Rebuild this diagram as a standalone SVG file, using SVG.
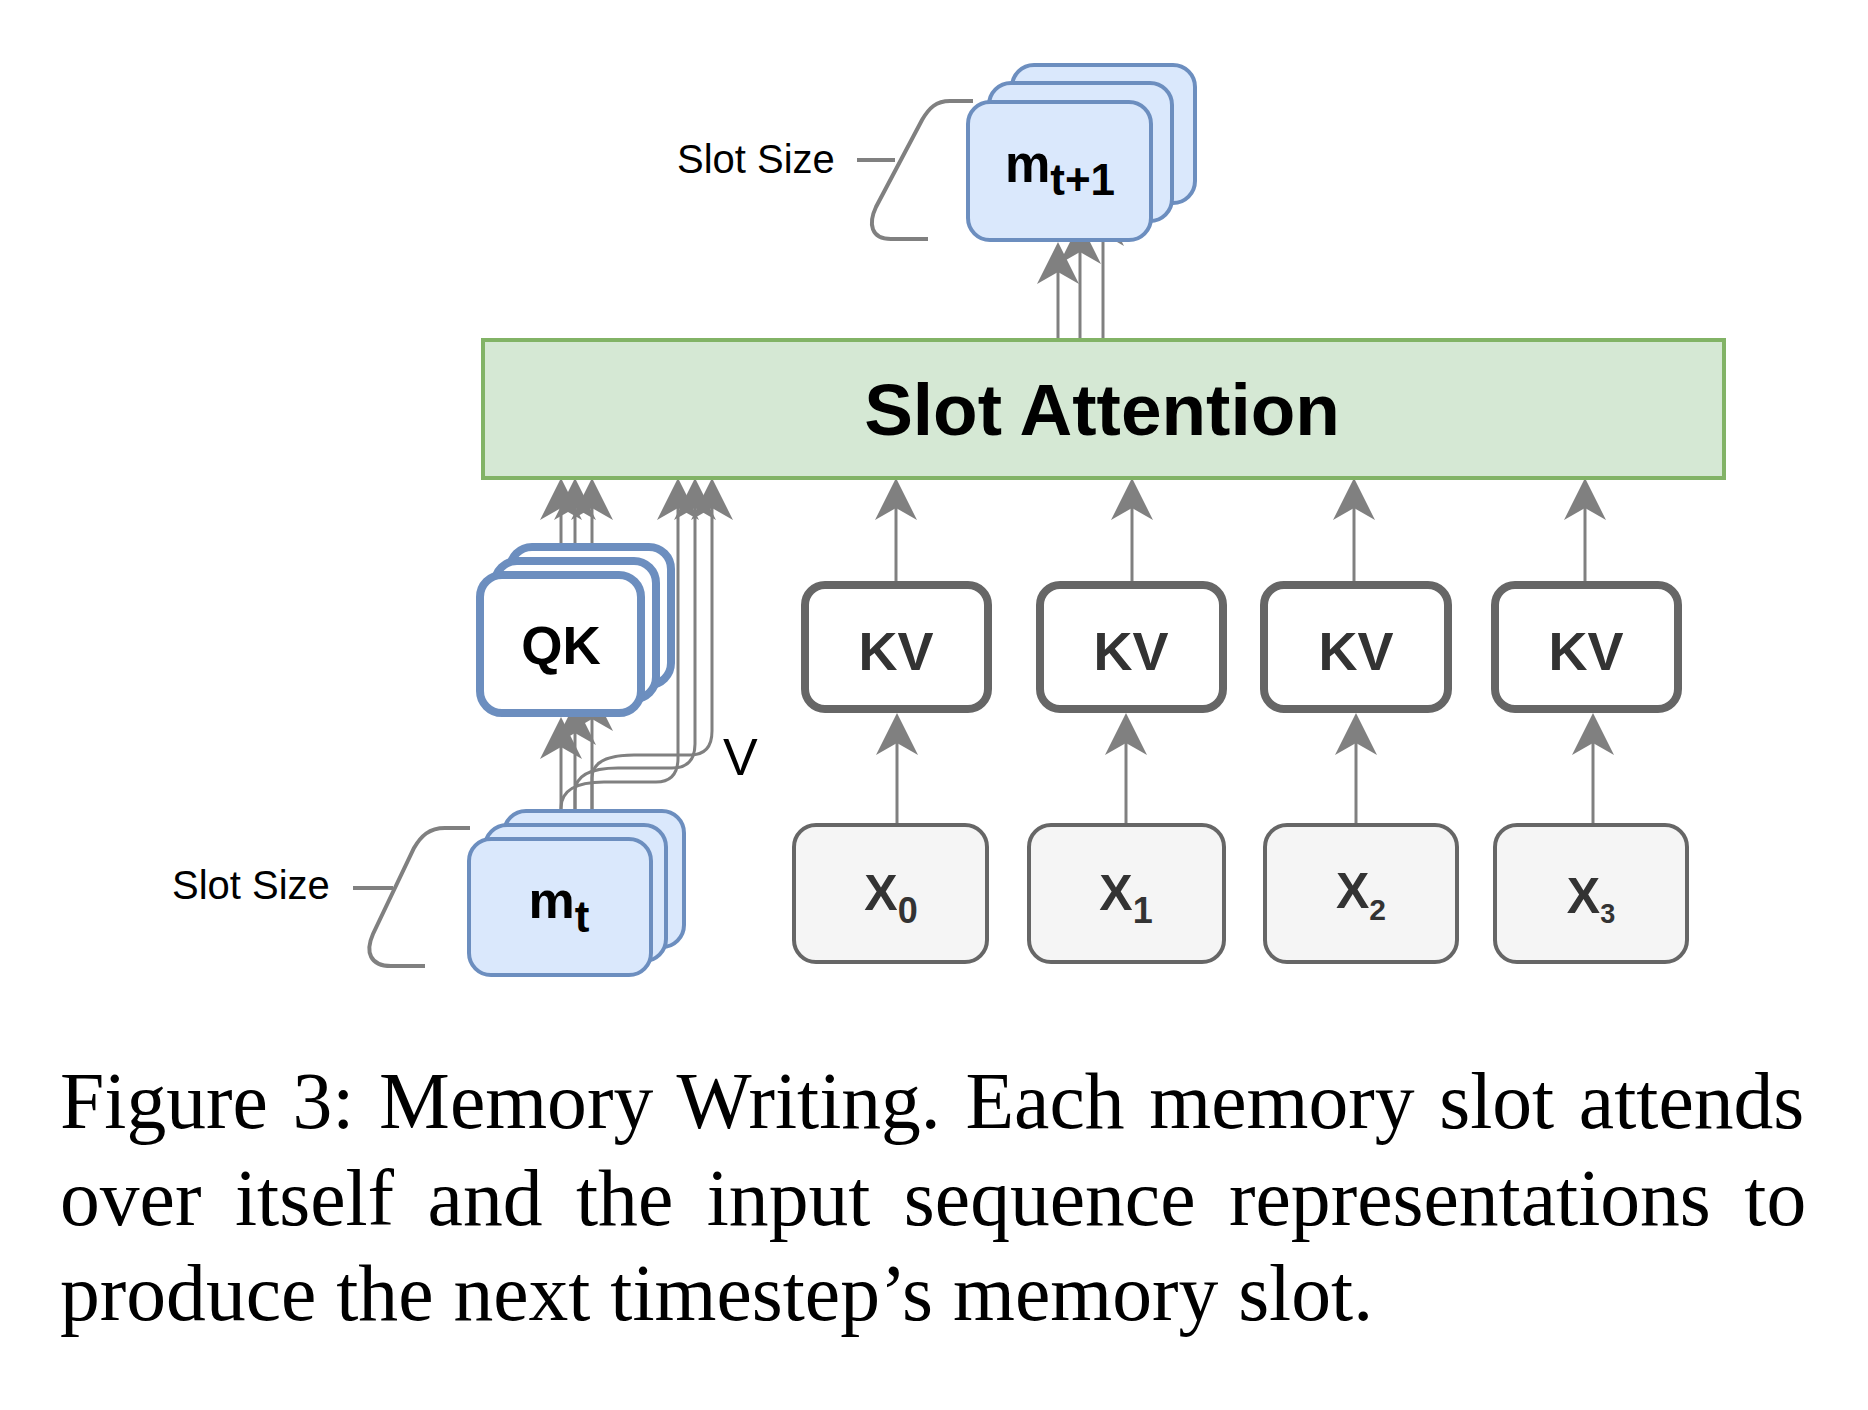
<svg xmlns="http://www.w3.org/2000/svg" width="1868" height="1410" viewBox="0 0 1868 1410">
<style>
  .conn { fill: none; stroke: #808080; stroke-width: 3; marker-end: url(#ah); }
  .brk { fill: none; stroke: #808080; stroke-width: 4; }
  .mbox { fill: #dae8fc; stroke: #6c8ebf; stroke-width: 4; }
  .qk { fill: #ffffff; stroke: #6c8ebf; stroke-width: 8; }
  .kv { fill: #ffffff; stroke: #666666; stroke-width: 8; }
  .xb { fill: #f5f5f5; stroke: #666666; stroke-width: 4; }
  .sa { fill: #d5e8d4; stroke: #82b366; stroke-width: 4; }
  .sans { font-family: "Liberation Sans", Arial, sans-serif; }
  .b { font-weight: bold; }
  .lbl { font-family: "Liberation Sans", Arial, sans-serif; font-size: 40px; fill: #000; }
  .cap { font-family: "Liberation Serif", "Times New Roman", serif; font-size: 79.6px; fill: #000; }
</style>
<defs>
  <marker id="ah" viewBox="0 0 42 42" refX="12" refY="21" markerWidth="42" markerHeight="42" markerUnits="userSpaceOnUse" orient="auto">
    <path d="M0,0 L42,21 L0,42 L12,21 Z" fill="#808080"/>
  </marker>
</defs>
<rect width="1868" height="1410" fill="#ffffff"/>

<g id="connectors">
  <!-- Slot Attention to m_{t+1} -->
  <path class="conn" d="M1058,340 L1058,272"/>
  <path class="conn" d="M1080,340 L1080,252"/>
  <path class="conn" d="M1103,340 L1103,234"/>
  <!-- QK to Slot Attention -->
  <path class="conn" d="M561,575 L561,508"/>
  <path class="conn" d="M575,561 L575,508"/>
  <path class="conn" d="M592,547 L592,508"/>
  <!-- m_t to QK -->
  <path class="conn" d="M561,837 L561,747"/>
  <path class="conn" d="M575,823 L575,733"/>
  <path class="conn" d="M592,809 L592,719"/>
  <!-- V : m_t to Slot Attention -->
  <path class="conn" d="M561,837 L561,808 C561,790 576,782 604,782 L656,782 C671,782 678,774 678,758 L678,508"/>
  <path class="conn" d="M575,823 L575,792 C575,776 590,768 618,768 L672,768 C687,768 695,760 695,744 L695,508"/>
  <path class="conn" d="M592,809 L592,778 C592,762 607,755 634,755 L690,755 C705,755 712,747 712,731 L712,508"/>
  <!-- KV to Slot Attention -->
  <path class="conn" d="M896,581 L896,508"/>
  <path class="conn" d="M1132,581 L1132,508"/>
  <path class="conn" d="M1354,581 L1354,508"/>
  <path class="conn" d="M1585,581 L1585,508"/>
  <!-- X to KV -->
  <path class="conn" d="M897,823 L897,743"/>
  <path class="conn" d="M1126,823 L1126,743"/>
  <path class="conn" d="M1356,823 L1356,743"/>
  <path class="conn" d="M1593,823 L1593,743"/>
</g>

<g id="slot-size-top">
  <text class="lbl" x="677" y="173">Slot Size</text>
  <path class="brk" d="M857,160 L895,160"/>
  <path class="brk" d="M973,101 L950,101 C936,101 929,108 922,120 L876,207 C868,224 871,239 891,239 L928,239"/>
</g>

<g id="slot-size-bottom">
  <text class="lbl" x="172" y="899">Slot Size</text>
  <path class="brk" d="M353,888 L393,888"/>
  <path class="brk" d="M470,828 L445,828 C429,828 421,836 414,848 L373,934 C365,952 370,966 391,966 L425,966"/>
</g>

<g id="node-mt1">
  <rect class="mbox" x="1012" y="65" width="183" height="138" rx="22"/>
  <rect class="mbox" x="989" y="83" width="183" height="138" rx="22"/>
  <rect class="mbox" x="968" y="102" width="183" height="138" rx="22"/>
  <text class="sans b" x="1060" y="182" text-anchor="middle" font-size="51">m<tspan font-size="44" dy="13">t+1</tspan></text>
</g>

<g id="node-slot-attention">
  <rect class="sa" x="483" y="340" width="1241" height="138"/>
  <text class="sans b" x="1102" y="435" text-anchor="middle" font-size="73">Slot Attention</text>
</g>

<g id="node-qk">
  <rect class="qk" x="510" y="547" width="161" height="138" rx="22"/>
  <rect class="qk" x="495" y="561" width="161" height="138" rx="22"/>
  <rect class="qk" x="480" y="575" width="161" height="138" rx="22"/>
  <text class="sans b" x="561" y="664" text-anchor="middle" font-size="53">QK</text>
</g>

<g id="label-v">
  <text class="sans" x="723" y="775" font-size="52">V</text>
</g>

<g id="node-mt">
  <rect class="mbox" x="504" y="811" width="180" height="136" rx="22"/>
  <rect class="mbox" x="485" y="825" width="181" height="136" rx="22"/>
  <rect class="mbox" x="469" y="839" width="182" height="136" rx="22"/>
  <text class="sans b" x="559" y="918" text-anchor="middle" font-size="52">m<tspan font-size="44" dy="14">t</tspan></text>
</g>

<g id="node-kv0">
  <rect class="kv" x="805" y="585" width="183" height="124" rx="20"/>
  <text class="sans b" x="896" y="670" text-anchor="middle" font-size="54" fill="#333333">KV</text>
</g>
<g id="node-kv1">
  <rect class="kv" x="1040" y="585" width="183" height="124" rx="20"/>
  <text class="sans b" x="1131" y="670" text-anchor="middle" font-size="54" fill="#333333">KV</text>
</g>
<g id="node-kv2">
  <rect class="kv" x="1264" y="585" width="184" height="124" rx="20"/>
  <text class="sans b" x="1356" y="670" text-anchor="middle" font-size="54" fill="#333333">KV</text>
</g>
<g id="node-kv3">
  <rect class="kv" x="1495" y="585" width="183" height="124" rx="20"/>
  <text class="sans b" x="1586" y="670" text-anchor="middle" font-size="54" fill="#333333">KV</text>
</g>

<g id="node-x0">
  <rect class="xb" x="794" y="825" width="193" height="137" rx="22"/>
  <text class="sans b" x="891" y="910" text-anchor="middle" font-size="50" fill="#333333">X<tspan font-size="36" dy="13">0</tspan></text>
</g>
<g id="node-x1">
  <rect class="xb" x="1029" y="825" width="195" height="137" rx="22"/>
  <text class="sans b" x="1126" y="910" text-anchor="middle" font-size="50" fill="#333333">X<tspan font-size="36" dy="13">1</tspan></text>
</g>
<g id="node-x2">
  <rect class="xb" x="1265" y="825" width="192" height="137" rx="22"/>
  <text class="sans b" x="1361" y="908" text-anchor="middle" font-size="50" fill="#333333">X<tspan font-size="30" dy="12">2</tspan></text>
</g>
<g id="node-x3">
  <rect class="xb" x="1495" y="825" width="192" height="137" rx="22"/>
  <text class="sans b" x="1591" y="913" text-anchor="middle" font-size="50" fill="#333333">X<tspan font-size="27" dy="10">3</tspan></text>
</g>

<g id="caption">
  <text class="cap" x="60" y="1128" word-spacing="4.8">Figure 3: Memory Writing. Each memory slot attends</text>
  <text class="cap" x="60" y="1225" word-spacing="13.6">over itself and the input sequence representations to</text>
  <text class="cap" x="60" y="1320">produce the next timestep’s memory slot.</text>
</g>
</svg>
